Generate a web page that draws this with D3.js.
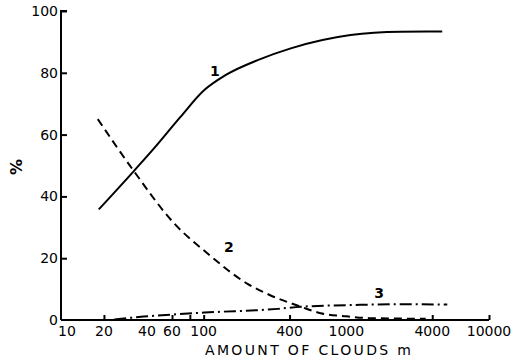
<!DOCTYPE html>
<html>
<head>
<meta charset="utf-8">
<script src="https://cdn.jsdelivr.net/npm/d3@7"></script>
<style>
  html, body { margin: 0; padding: 0; background: #fff; }
  svg { display: block; }
  text { font-family: "DejaVu Sans", sans-serif; fill: #000; }
</style>
</head>
<body>
<svg id="chart" width="530" height="361"></svg>
<script>
// ---- data ----
const curve1X = [18.4, 32.4, 45, 69, 101, 143, 239, 408, 1071, 2400, 4700];
const curve1Y = [35.8, 48.2, 55.6, 65.8, 74.4, 79.3, 84.1, 87.9, 92.2, 93.3, 93.4];

const curve2X = [18.1, 32.4, 62, 106, 203, 290, 480, 661, 1000, 1450, 3600];
const curve2Y = [65.0, 48.2, 31.3, 21.6, 11.7, 8.1, 4.3, 2.2, 1.2, 0.6, 0.4];

const curve3X = [23.6, 38, 101, 330, 480, 1250, 2400, 5100];
const curve3Y = [0.2, 1.1, 2.4, 3.6, 4.3, 4.9, 5.1, 5.0];

const xTickLabels = [10, 20, 40, 60, 100, 400, 1000, 4000, 10000];
const xTickMarks = [20, 60, 80, 100, 400, 4000, 10000];
const yTicks = [0, 20, 40, 60, 80, 100];

const curveLabels = ["1", "2", "3"];
const curveLabelAt = [[120, 79], [150, 22], [1700, 7]];

const xTitle = "AMOUNT OF CLOUDS m";
const yTitle = "%";

// ---- drawing ----
const svg = d3.select("#chart");
const x = d3.scaleLog().domain([10, 10000]).range([61, 489]);
const y = d3.scaleLinear().domain([0, 100]).range([320, 11]);

// axes
const yAxis = d3.axisRight(y).tickValues(yTicks.filter(d => d > 0)).tickSize(6).tickFormat("");
const gy = svg.append("g").attr("transform", `translate(${x.range()[0]},0)`).call(yAxis);
gy.select(".domain").attr("d", `M6,${y(100)}H0V${y(0)}`);
gy.selectAll("line, path").attr("stroke", "#000").attr("stroke-width", 2);

svg.append("g").selectAll("text").data(yTicks).join("text")
  .attr("x", x.range()[0] - 3)
  .attr("y", d => y(d))
  .attr("dy", "0.36em")
  .attr("text-anchor", "end")
  .attr("font-size", 14)
  .text(d => d);

const xAxis = d3.axisTop(x).tickValues(xTickMarks).tickSize(5).tickFormat("");
const gx = svg.append("g").attr("transform", `translate(0,${y(0)})`).call(xAxis);
gx.select(".domain").attr("d", `M${x.range()[0]},0H${x.range()[1]}`);
gx.selectAll("line, path").attr("stroke", "#000").attr("stroke-width", 2);

svg.append("g").selectAll("text").data(xTickLabels).join("text")
  .attr("x", d => d === 10 ? x(d) + 6 : x(d))
  .attr("y", 336)
  .attr("text-anchor", "middle")
  .attr("font-size", 14)
  .text(d => d);

svg.append("text")
  .attr("x", 205).attr("y", 355)
  .attr("font-size", 14)
  .attr("textLength", 206)
  .attr("lengthAdjust", "spacing")
  .text(xTitle);

svg.append("text")
  .attr("transform", "translate(22,167) rotate(-90)")
  .attr("text-anchor", "middle")
  .attr("font-size", 16)
  .attr("font-weight", "bold")
  .text(yTitle);

// curves
const line = d3.line().x(d => x(d[0])).y(d => y(d[1])).curve(d3.curveMonotoneX);
const series = [
  { xs: curve1X, ys: curve1Y, dash: null },
  { xs: curve2X, ys: curve2Y, dash: "8,5" },
  { xs: curve3X, ys: curve3Y, dash: "12,4,2,4" }
];
svg.append("g").selectAll("path").data(series).join("path")
  .attr("d", s => line(s.xs.map((v, i) => [v, s.ys[i]])))
  .attr("fill", "none")
  .attr("stroke", "#000")
  .attr("stroke-width", 2)
  .attr("stroke-dasharray", s => s.dash);

svg.append("g").selectAll("text").data(curveLabels).join("text")
  .attr("x", (d, i) => x(curveLabelAt[i][0]))
  .attr("y", (d, i) => y(curveLabelAt[i][1]))
  .attr("text-anchor", "middle")
  .attr("font-size", 14)
  .attr("font-weight", "bold")
  .text(d => d);
</script>
</body>
</html>
